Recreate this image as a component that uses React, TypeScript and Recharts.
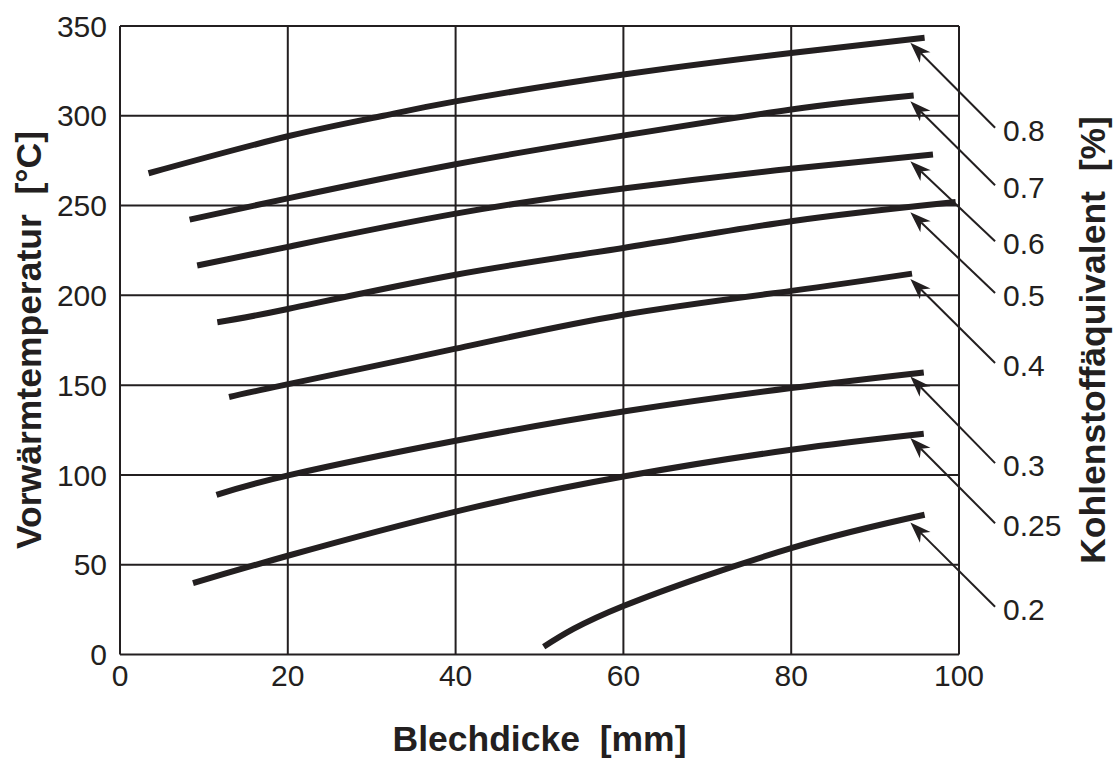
import React from 'react';
import { LineChart, Line, XAxis, YAxis, CartesianGrid, ReferenceLine, Customized } from 'recharts';

const xTicks = [0, 20, 40, 60, 80, 100];
const yTicks = [0, 50, 100, 150, 200, 250, 300, 350];

const ce08 = [
  { x: 3.4, y: 268 }, { x: 20, y: 288.6 }, { x: 31.4, y: 300 }, { x: 40, y: 308 },
  { x: 60, y: 323 }, { x: 80, y: 335 }, { x: 95.9, y: 343.5 },
];
const ce07 = [
  { x: 8.3, y: 242.2 }, { x: 20, y: 254 }, { x: 40, y: 273 }, { x: 60, y: 289 },
  { x: 80, y: 303.5 }, { x: 94.6, y: 311.3 },
];
const ce06 = [
  { x: 9.2, y: 216.6 }, { x: 20, y: 227 }, { x: 40, y: 245.5 },
  { x: 60, y: 259.5 }, { x: 80, y: 270.5 }, { x: 96.9, y: 278.4 },
];
const ce05 = [
  { x: 11.6, y: 185 }, { x: 20, y: 192.4 }, { x: 40, y: 211.5 },
  { x: 60, y: 226.4 }, { x: 80, y: 241.3 }, { x: 99.6, y: 252 },
];
const ce04 = [
  { x: 13, y: 143.4 }, { x: 19.5, y: 150 }, { x: 40, y: 170.3 }, { x: 60, y: 189.2 },
  { x: 80, y: 202.5 }, { x: 94.4, y: 212.1 },
];
const ce03 = [
  { x: 11.5, y: 88.9 }, { x: 20.3, y: 100 }, { x: 40, y: 119 }, { x: 60, y: 135.3 },
  { x: 80, y: 148.4 }, { x: 95.8, y: 157.1 },
];
const ce025 = [
  { x: 8.7, y: 39.7 }, { x: 20, y: 55 }, { x: 40, y: 79.6 },
  { x: 60, y: 99.1 }, { x: 80, y: 114 }, { x: 95.8, y: 122.9 },
];
const ce02 = [
  { x: 50.5, y: 4.3 }, { x: 60, y: 27 }, { x: 80, y: 59.2 }, { x: 95.9, y: 77.8 },
];

const curves = [ce08, ce07, ce06, ce05, ce04, ce03, ce025, ce02];
const curveLabels = ['0.8', '0.7', '0.6', '0.5', '0.4', '0.3', '0.25', '0.2'];
const arrowTipX = 94.2;
const arrowTailX = 104.3;
const arrowTipY = [340.7, 308.1, 274.7, 246.3, 209.1, 154.8, 120.5, 73.5];
const arrowTailY = [293.3, 261.3, 230.1, 201.3, 162.3, 106.6, 73.1, 26.6];

const INK = '#231f20';
const FONT = '"Liberation Sans", Arial, Helvetica, sans-serif';

function makeArrow(label: string) {
  return (p: any) => {
    const { x1, y1, x2, y2 } = p;
    const dx = x2 - x1;
    const dy = y2 - y1;
    const len = Math.hypot(dx, dy) || 1;
    const ux = dx / len;
    const uy = dy / len;
    const nx = -uy;
    const ny = ux;
    const hl = 21;
    const hw = 7.5;
    const notch = 15;
    const bx = x2 - ux * hl;
    const by = y2 - uy * hl;
    const pts = [
      [x2, y2],
      [bx + nx * hw, by + ny * hw],
      [x2 - ux * notch, y2 - uy * notch],
      [bx - nx * hw, by - ny * hw],
    ]
      .map((q) => q.join(','))
      .join(' ');
    return (
      <g>
        <line x1={x1} y1={y1} x2={x2 - ux * notch} y2={y2 - uy * notch} stroke={INK} strokeWidth={2} />
        <polygon points={pts} fill={INK} />
        <text x={x1 + 8} y={y1 + 13} fontSize={30} fontFamily={FONT} fill={INK}>
          {label}
        </text>
      </g>
    );
  };
}

const Titles = () => (
  <g fontFamily={FONT} fontWeight="bold" fontSize={35.5} fill={INK}>
    <text x={539.5} y={751} textAnchor="middle" style={{ whiteSpace: 'pre' }}>
      {'Blechdicke  [mm]'}
    </text>
    <text transform="translate(41,340) rotate(-90)" textAnchor="middle" style={{ whiteSpace: 'pre' }}>
      {'Vorwärmtemperatur  [°C]'}
    </text>
    <text transform="translate(1105,340) rotate(-90)" textAnchor="middle" style={{ whiteSpace: 'pre' }}>
      {'Kohlenstoffäquivalent  [%]'}
    </text>
  </g>
);

export default function App() {
  return (
    <div style={{ position: 'absolute', left: 0, top: 0, background: '#fff' }}>
      <LineChart width={1113} height={760} margin={{ top: 26, right: 154, bottom: 65.5, left: 60 }}>
        <CartesianGrid stroke={INK} strokeWidth={2} />
        <XAxis
          type="number"
          dataKey="x"
          domain={[0, 100]}
          ticks={xTicks}
          axisLine={false}
          tickLine={false}
          tickMargin={4.5}
          height={40}
          interval={0}
          tick={{ fontSize: 30, fontFamily: FONT, fill: INK }}
        />
        <YAxis
          type="number"
          domain={[0, 350]}
          ticks={yTicks}
          axisLine={false}
          tickLine={false}
          tickMargin={7}
          width={60}
          interval={0}
          tick={{ fontSize: 30, fontFamily: FONT, fill: INK }}
        />
        {curves.map((c, i) => (
          <Line
            key={curveLabels[i]}
            data={c}
            dataKey="y"
            type="natural"
            stroke={INK}
            strokeWidth={6}
            dot={false}
            activeDot={false}
            isAnimationActive={false}
          />
        ))}
        {curveLabels.map((lab, i) => (
          <ReferenceLine
            key={'a' + lab}
            segment={[
              { x: arrowTailX, y: arrowTailY[i] },
              { x: arrowTipX, y: arrowTipY[i] },
            ]}
            ifOverflow="visible"
            shape={makeArrow(lab)}
          />
        ))}
        <Customized component={Titles} />
      </LineChart>
    </div>
  );
}
